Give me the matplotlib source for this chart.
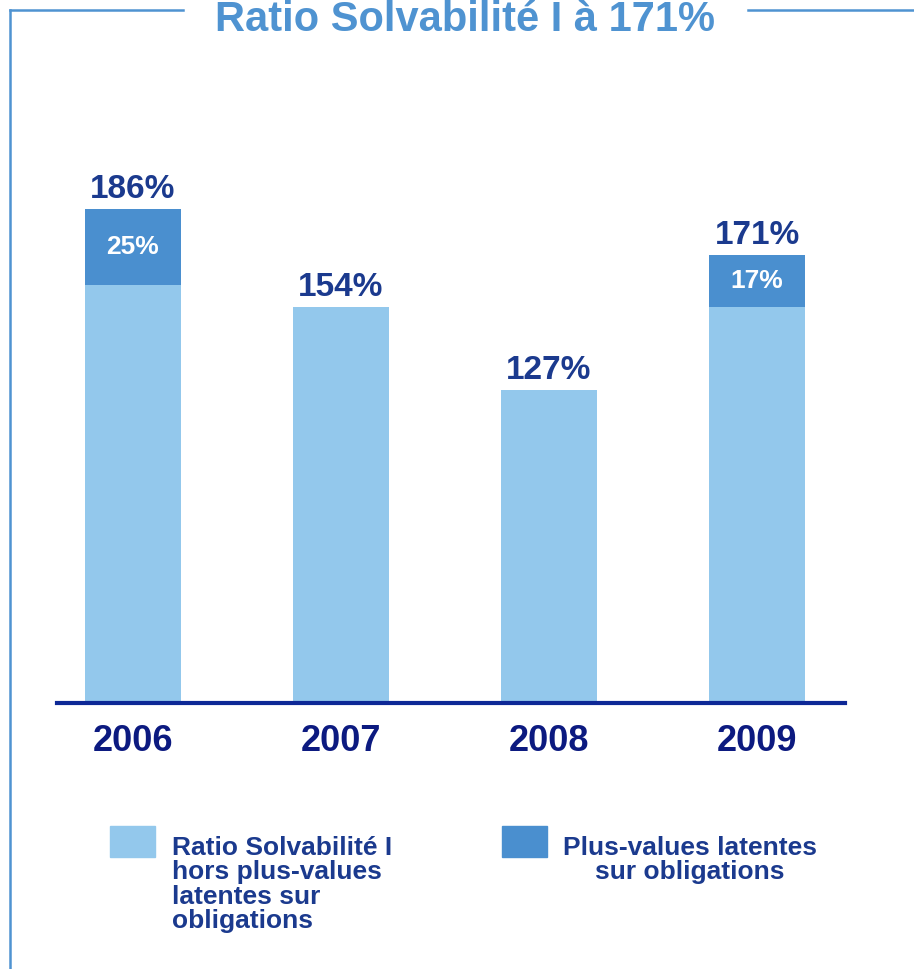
import matplotlib.pyplot as plt
from matplotlib.patches import Rectangle
from matplotlib.lines import Line2D

plt.rcParams['font.family'] = ['Liberation Sans', 'DejaVu Sans']
plt.rcParams['font.weight'] = 'bold'

years = ['2006', '2007', '2008', '2009']
ratio_hors_pv = [161, 154, 127, 154]
pv_latentes = [25, 0, 0, 17]
ratio_total = [186, 154, 127, 171]

title = 'Ratio Solvabilité I à 171%'
legend_1 = 'Ratio Solvabilité I\nhors plus-values\nlatentes sur\nobligations'
legend_2 = 'Plus-values latentes\nsur obligations'

light = '#93c8ec'
dark = '#4a8fcf'
frame_col = '#4f93d1'
navy = '#1b3a8e'
axis_col = '#0d2896'

W, H = 914, 969
fig = plt.figure(figsize=(W / 100, H / 100), dpi=100)

def fx(px):
    return px / W

def fy(py):
    return 1 - py / H

# cadre autour du graphique
fig.add_artist(Line2D([fx(10), fx(10)], [fy(10), 0], color=frame_col, lw=1.8))
fig.add_artist(Line2D([fx(10), fx(183)], [fy(10), fy(10)], color=frame_col, lw=1.8))
fig.add_artist(Line2D([fx(748), 1], [fy(10), fy(10)], color=frame_col, lw=1.8))
fig.text(fx(465), fy(31), title, ha='center', va='baseline',
         fontsize=30, color=frame_col, fontweight='bold')

ax = fig.add_axes([fx(57), fy(703), fx(845) - fx(57), 600 / H])
x = list(range(len(years)))
ax.bar(x, ratio_hors_pv, width=0.46, color=light, zorder=1)
ax.bar(x, pv_latentes, width=0.46, bottom=ratio_hors_pv, color=dark, zorder=1)
ax.set_xlim(-0.365, 3.423)
ax.set_ylim(25, 220.4)
ax.axhline(25, color=axis_col, lw=3, zorder=3, clip_on=False)

for i in x:
    ax.annotate(f'{ratio_total[i]}%', xy=(i, ratio_total[i]), xytext=(0, 8),
                textcoords='offset points', ha='center', va='baseline',
                fontsize=24, color=navy, fontweight='bold')
    if pv_latentes[i] > 0:
        ax.text(i, ratio_hors_pv[i] + pv_latentes[i] / 2, f'{pv_latentes[i]}%',
                ha='center', va='center', fontsize=19, color='white',
                fontweight='bold')

ax.set_xticks(x, years)
ax.tick_params(axis='x', length=0, pad=15, labelsize=26, labelcolor='#0c1a80')
ax.set_yticks([])
for s in ax.spines.values():
    s.set_visible(False)
ax.patch.set_alpha(0)

# légende
fig.add_artist(Rectangle((fx(110), fy(857)), fx(45), 31 / H, color=light))
fig.add_artist(Rectangle((fx(502), fy(857)), fx(45), 31 / H, color=dark))
fig.text(fx(172), fy(836), legend_1, ha='left', va='top', fontsize=19,
         color=navy, fontweight='bold', linespacing=1.02)
fig.text(fx(690), fy(836), legend_2, ha='center', va='top', fontsize=19,
         color=navy, fontweight='bold', linespacing=1.02, multialignment='center')

fig.savefig('out.png', dpi=100)
